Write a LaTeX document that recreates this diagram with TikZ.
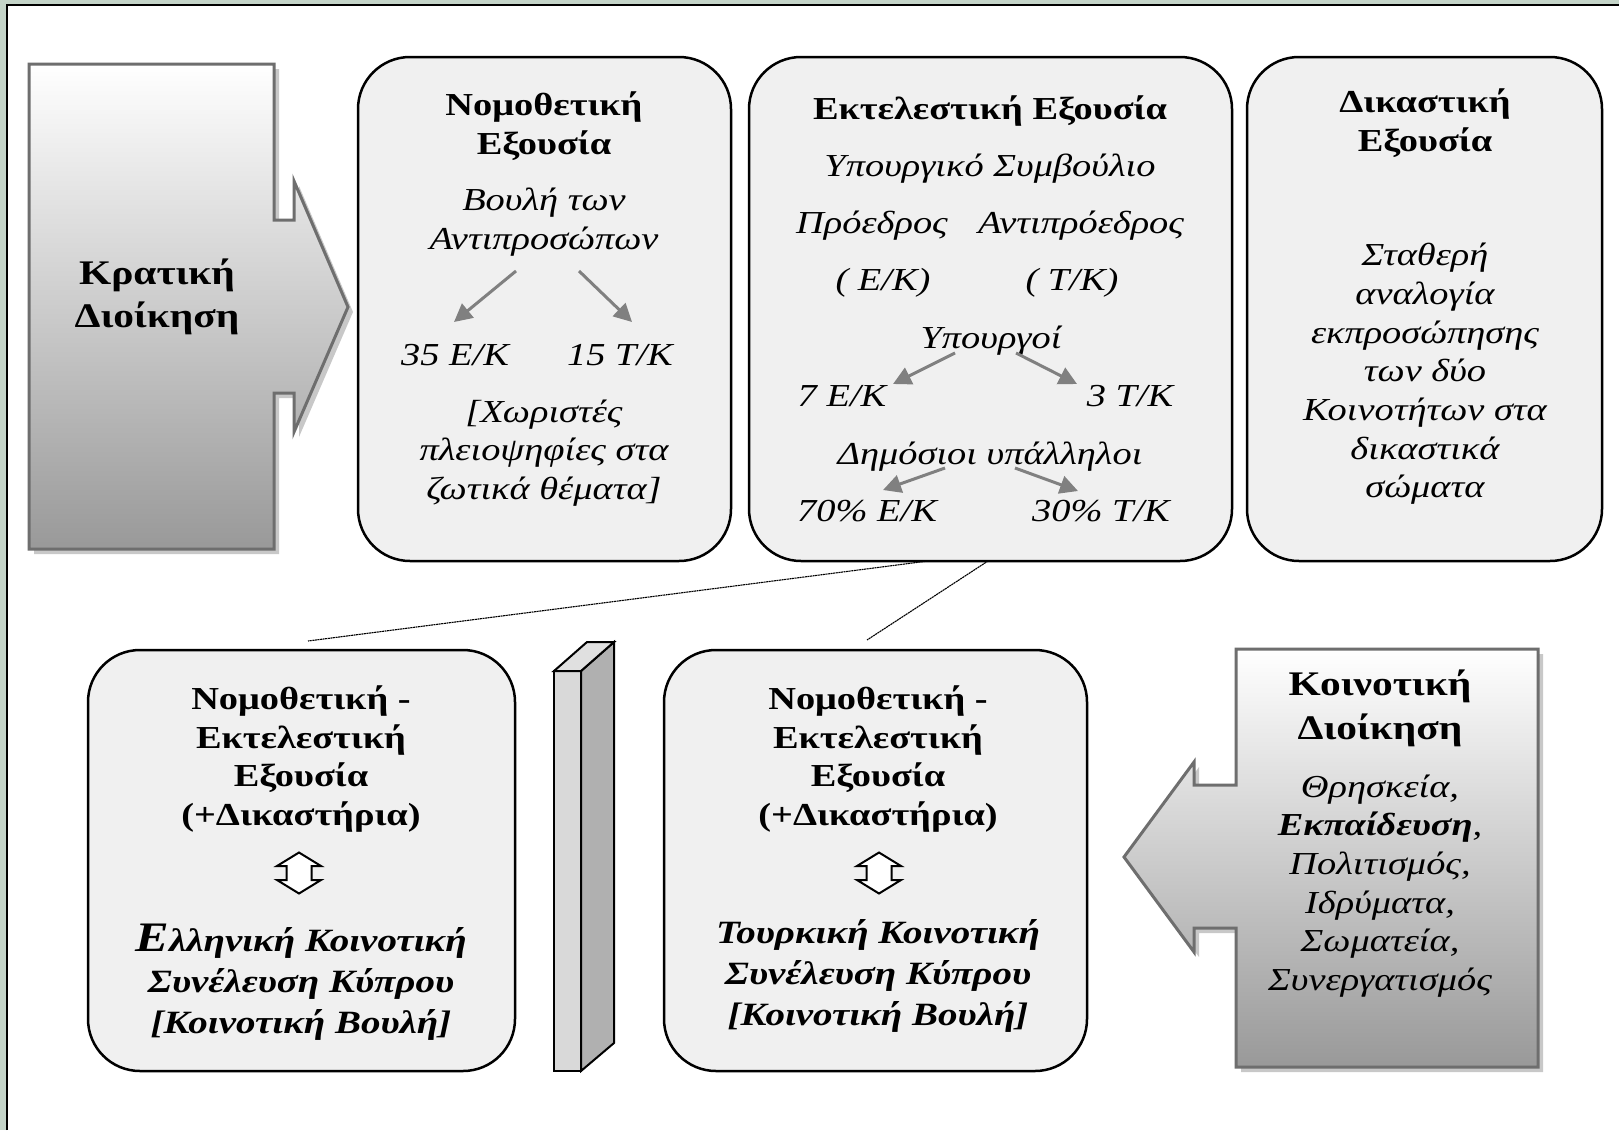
\documentclass[tikz,border=0pt]{standalone}
\usepackage{fontspec}
\setmainfont{Liberation Serif}[FakeStretch=1.2]
\usetikzlibrary{arrows.meta}
\definecolor{boxfill}{RGB}{240,240,240}
\definecolor{framegreen}{RGB}{196,212,200}
\definecolor{arrgray}{RGB}{128,128,128}
\definecolor{shapeedge}{RGB}{110,110,110}
\definecolor{shadowgray}{RGB}{200,200,200}
\begin{document}
\begin{tikzpicture}[x=1pt,y=-1pt,
  txt/.style={inner sep=0pt, align=center, font=\fontsize{32}{38.7}\selectfont},
  ttl/.style={txt, font=\fontsize{32}{38.7}\selectfont\bfseries},
  itl/.style={txt, font=\fontsize{32}{38.7}\selectfont\itshape},
  bit/.style={txt, font=\fontsize{32.5}{41}\selectfont\bfseries\itshape},
  rbox/.style={draw=black, line width=2.5pt, fill=boxfill, rounded corners=52pt},
  garrow/.style={draw=arrgray, line width=3pt, -{Triangle[length=18pt,width=18pt]}},
  thinlink/.style={draw=black, line width=1.1pt, dash pattern=on 2pt off 0.6pt},
  bigshape/.style={draw=shapeedge, line width=3pt, top color=white, bottom color=gray!80},
  dblarrow/.pic={\draw[line width=2pt, fill=white] (0,-20.5) -- (22,-7) -- (12.5,-7) -- (12.5,7) -- (22,7) -- (0,20.5) -- (-22,7) -- (-12.5,7) -- (-12.5,-7) -- (-22,-7) -- cycle;}
]
\useasboundingbox (0,0) rectangle (1619,1130);
\fill[white] (0,0) rectangle (1619,1130);
% frame
\fill[framegreen] (0,0) rectangle (1619,4);
\fill[framegreen] (0,0) rectangle (6,1130);
\draw[black, line width=2.5pt] (7,1130) -- (7,5) -- (1619,5);

% Kratiki Dioikisi arrow
\fill[shadowgray, shift={(5,5)}] (29,64) -- (274,64) -- (274,220) -- (294,220) -- (294,181) -- (348,307) -- (294,432) -- (294,393) -- (274,393) -- (274,549) -- (29,549) -- cycle;
\path[bigshape] (29,64) -- (274,64) -- (274,220) -- (294,220) -- (294,181) -- (348,307) -- (294,432) -- (294,393) -- (274,393) -- (274,549) -- (29,549) -- cycle;
\node[ttl, font=\fontsize{34.5}{43}\selectfont\bfseries] (kd) at (157,297) {Κρατική\\Διοίκηση};

% Koinotiki Dioikisi arrow
\fill[shadowgray, shift={(5,5)}] (1236,649) -- (1538,649) -- (1538,1067) -- (1236,1067) -- (1236,928) -- (1194,928) -- (1194,952) -- (1124,857) -- (1194,762) -- (1194,785) -- (1236,785) -- cycle;
\path[bigshape] (1236,649) -- (1538,649) -- (1538,1067) -- (1236,1067) -- (1236,928) -- (1194,928) -- (1194,952) -- (1124,857) -- (1194,762) -- (1194,785) -- (1236,785) -- cycle;
\node[ttl, font=\fontsize{34.5}{44}\selectfont\bfseries] (kod) at (1380,708) {Κοινοτική\\Διοίκηση};
\node[itl] (kodb) at (1380,886) {Θρησκεία,\\{\bfseries Εκπαίδευση},\\Πολιτισμός,\\Ιδρύματα,\\Σωματεία,\\Συνεργατισμός};

% top boxes
\path[rbox] (358,57) rectangle (731,561);
\path[rbox] (749,57) rectangle (1232,561);
\path[rbox] (1247,57) rectangle (1602,561);

% Nomothetiki
\node[ttl] (nt) at (544,126) {Νομοθετική\\Εξουσία};
\node[itl] (vb) at (544,222) {Βουλή των\\Αντιπροσώπων};
\node[itl] (n35) at (455,355) {35 Ε/Κ};
\node[itl] (n15) at (620,355) {15 Τ/Κ};
\node[itl] (xor) at (544,453) {{[}Χωριστές\\πλειοψηφίες στα\\ζωτικά θέματα{]}};
\coordinate (a1s) at (516,271); \coordinate (a1e) at (454,322);
\coordinate (a2s) at (579,271); \coordinate (a2e) at (632,322);
\draw[garrow] (a1s) -- (a1e);
\draw[garrow] (a2s) -- (a2e);

% Ektelestiki
\node[ttl] (et) at (990,111) {Εκτελεστική Εξουσία};
\node[itl] (ys) at (990,169) {Υπουργικό Συμβούλιο};
\node[itl] (pr) at (872,226) {Πρόεδρος};
\node[itl] (apr) at (1081,226) {Αντιπρόεδρος};
\node[itl] (pek) at (883,283) {( Ε/Κ)};
\node[itl] (ptk) at (1072,283) {( Τ/Κ)};
\node[itl] (yp) at (991,341) {Υπουργοί};
\node[itl] (y7) at (842,396) {7 Ε/Κ};
\node[itl] (y3) at (1130,396) {3 Τ/Κ};
\node[itl] (dy) at (990,457) {Δημόσιοι υπάλληλοι};
\node[itl] (d70) at (867,511) {70\% Ε/Κ};
\node[itl] (d30) at (1101,511) {30\% Τ/Κ};
\coordinate (b1s) at (955,353); \coordinate (b1e) at (893,384);
\coordinate (b2s) at (1016,353); \coordinate (b2e) at (1077,384);
\coordinate (c1s) at (945,468); \coordinate (c1e) at (883,490);
\coordinate (c2s) at (1015,468); \coordinate (c2e) at (1078,491);
\draw[garrow] (b1s) -- (b1e);
\draw[garrow] (b2s) -- (b2e);
\draw[garrow] (c1s) -- (c1e);
\draw[garrow] (c2s) -- (c2e);

% Dikastiki
\node[ttl] (dt) at (1425,123) {Δικαστική\\Εξουσία};
\node[itl] (db) at (1425,374) {Σταθερή\\αναλογία\\εκπροσώπησης\\των δύο\\Κοινοτήτων στα\\δικαστικά\\σώματα};

% links from executive box
\coordinate (l1s) at (928,561); \coordinate (l1e) at (308,641);
\coordinate (l2s) at (988,561); \coordinate (l2e) at (867,640);
\draw[thinlink] (l1s) -- (l1e);
\draw[thinlink] (l2s) -- (l2e);

% bottom boxes
\path[rbox] (88,650) rectangle (515,1071);
\path[rbox] (664,650) rectangle (1087,1071);

\node[ttl] (gt) at (301,759) {Νομοθετική -\\Εκτελεστική\\Εξουσία\\(+Δικαστήρια)};
\pic at (299,873) {dblarrow};
\node[bit] (gb) at (301,982) {{\fontsize{42}{41}\selectfont Ε}λληνική Κοινοτική\\Συνέλευση Κύπρου\\{[}Κοινοτική Βουλή{]}};

\node[ttl] (tt) at (878,759) {Νομοθετική -\\Εκτελεστική\\Εξουσία\\(+Δικαστήρια)};
\pic at (879,873) {dblarrow};
\node[bit] (tb) at (878,976) {Τουρκική Κοινοτική\\Συνέλευση Κύπρου\\{[}Κοινοτική Βουλή{]}};

% pillar
\draw[line width=2pt, fill=gray!30] (554,671) rectangle (581,1071);
\draw[line width=2pt, fill=gray!62] (581,671) -- (614,642) -- (614,1043) -- (581,1071) -- cycle;
\draw[line width=2pt, fill=gray!24] (554,671) -- (587,642) -- (614,642) -- (581,671) -- cycle;
\end{tikzpicture}
\end{document}
